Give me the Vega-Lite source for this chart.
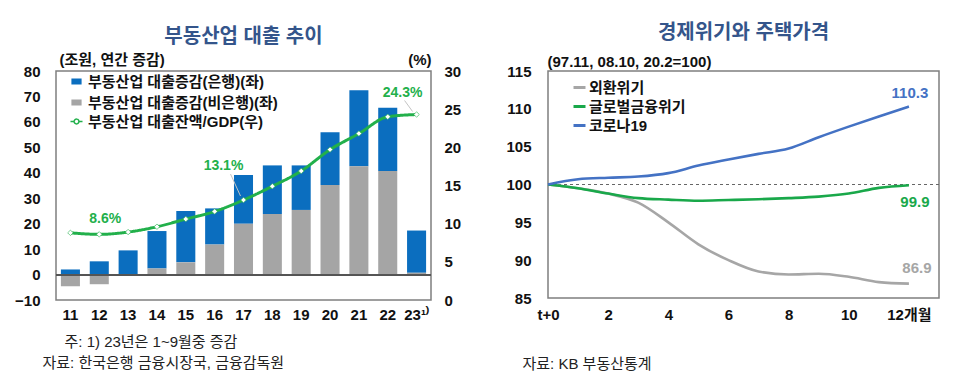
{
  "$schema": "https://vega.github.io/schema/vega-lite/v6.json",
  "background": "white",
  "padding": {"left": 13, "top": 22, "right": 5, "bottom": 5},
  "spacing": 43,
  "config": {
    "font": "Liberation Sans, Noto Sans CJK KR",
    "view": {"stroke": "#7f7f7f", "strokeWidth": 1.5},
    "axis": {"labelFont": "Liberation Sans, Noto Sans CJK KR", "labelFontWeight": "bold", "labelFontSize": 15, "labelColor": "#111111", "labelOverlap": false, "ticks": false, "domain": false, "grid": false, "titleFont": "Liberation Sans, Noto Sans CJK KR", "titleFontWeight": "bold", "titleFontSize": 15, "titleColor": "#111111"},
    "legend": {"labelFont": "Liberation Sans, Noto Sans CJK KR", "labelFontWeight": "bold", "labelFontSize": 15, "labelColor": "#111111", "labelLimit": 400, "padding": 0},
    "title": {"font": "Liberation Sans, Noto Sans CJK KR", "fontSize": 20, "fontWeight": "bold", "color": "#34558b"}
  },
  "datasets": {
    "loans": [
      {"year": "11", "series": "부동산업 대출증감(은행)(좌)", "value": 2.0},
      {"year": "12", "series": "부동산업 대출증감(은행)(좌)", "value": 5.2},
      {"year": "13", "series": "부동산업 대출증감(은행)(좌)", "value": 9.5},
      {"year": "14", "series": "부동산업 대출증감(은행)(좌)", "value": 14.7},
      {"year": "15", "series": "부동산업 대출증감(은행)(좌)", "value": 20.2},
      {"year": "16", "series": "부동산업 대출증감(은행)(좌)", "value": 14.2},
      {"year": "17", "series": "부동산업 대출증감(은행)(좌)", "value": 19.1},
      {"year": "18", "series": "부동산업 대출증감(은행)(좌)", "value": 19.1},
      {"year": "19", "series": "부동산업 대출증감(은행)(좌)", "value": 17.5},
      {"year": "20", "series": "부동산업 대출증감(은행)(좌)", "value": 20.7},
      {"year": "21", "series": "부동산업 대출증감(은행)(좌)", "value": 29.8},
      {"year": "22", "series": "부동산업 대출증감(은행)(좌)", "value": 24.9},
      {"year": "23", "series": "부동산업 대출증감(은행)(좌)", "value": 16.6},
      {"year": "11", "series": "부동산업 대출증감(비은행)(좌)", "value": -4.6},
      {"year": "12", "series": "부동산업 대출증감(비은행)(좌)", "value": -3.8},
      {"year": "13", "series": "부동산업 대출증감(비은행)(좌)", "value": 0.0},
      {"year": "14", "series": "부동산업 대출증감(비은행)(좌)", "value": 2.4},
      {"year": "15", "series": "부동산업 대출증감(비은행)(좌)", "value": 4.8},
      {"year": "16", "series": "부동산업 대출증감(비은행)(좌)", "value": 11.8},
      {"year": "17", "series": "부동산업 대출증감(비은행)(좌)", "value": 20.0},
      {"year": "18", "series": "부동산업 대출증감(비은행)(좌)", "value": 23.8},
      {"year": "19", "series": "부동산업 대출증감(비은행)(좌)", "value": 25.4},
      {"year": "20", "series": "부동산업 대출증감(비은행)(좌)", "value": 35.2},
      {"year": "21", "series": "부동산업 대출증감(비은행)(좌)", "value": 42.6},
      {"year": "22", "series": "부동산업 대출증감(비은행)(좌)", "value": 40.7},
      {"year": "23", "series": "부동산업 대출증감(비은행)(좌)", "value": 0.7},
      {"year": "11", "series": "부동산업 대출잔액/GDP(우)", "value": 8.8},
      {"year": "12", "series": "부동산업 대출잔액/GDP(우)", "value": 8.6, "label": "8.6%"},
      {"year": "13", "series": "부동산업 대출잔액/GDP(우)", "value": 8.9},
      {"year": "14", "series": "부동산업 대출잔액/GDP(우)", "value": 9.6},
      {"year": "15", "series": "부동산업 대출잔액/GDP(우)", "value": 10.6},
      {"year": "16", "series": "부동산업 대출잔액/GDP(우)", "value": 11.6},
      {"year": "17", "series": "부동산업 대출잔액/GDP(우)", "value": 13.1, "label": "13.1%"},
      {"year": "18", "series": "부동산업 대출잔액/GDP(우)", "value": 14.9},
      {"year": "19", "series": "부동산업 대출잔액/GDP(우)", "value": 16.9},
      {"year": "20", "series": "부동산업 대출잔액/GDP(우)", "value": 19.7},
      {"year": "21", "series": "부동산업 대출잔액/GDP(우)", "value": 21.8},
      {"year": "22", "series": "부동산업 대출잔액/GDP(우)", "value": 24.0},
      {"year": "23", "series": "부동산업 대출잔액/GDP(우)", "value": 24.3, "label": "24.3%"}
    ],
    "prices": [
      {"month": 0, "series": "외환위기", "index": 100.0},
      {"month": 1, "series": "외환위기", "index": 99.5},
      {"month": 2, "series": "외환위기", "index": 98.8},
      {"month": 3, "series": "외환위기", "index": 97.6},
      {"month": 4, "series": "외환위기", "index": 95.0},
      {"month": 5, "series": "외환위기", "index": 92.1},
      {"month": 6, "series": "외환위기", "index": 90.0},
      {"month": 7, "series": "외환위기", "index": 88.5},
      {"month": 8, "series": "외환위기", "index": 88.1},
      {"month": 9, "series": "외환위기", "index": 88.2},
      {"month": 10, "series": "외환위기", "index": 87.8},
      {"month": 11, "series": "외환위기", "index": 87.1},
      {"month": 12, "series": "외환위기", "index": 86.9},
      {"month": 0, "series": "글로벌금융위기", "index": 100.0},
      {"month": 1, "series": "글로벌금융위기", "index": 99.5},
      {"month": 2, "series": "글로벌금융위기", "index": 98.8},
      {"month": 3, "series": "글로벌금융위기", "index": 98.2},
      {"month": 4, "series": "글로벌금융위기", "index": 98.0},
      {"month": 5, "series": "글로벌금융위기", "index": 97.85},
      {"month": 6, "series": "글로벌금융위기", "index": 97.95},
      {"month": 7, "series": "글로벌금융위기", "index": 98.05},
      {"month": 8, "series": "글로벌금융위기", "index": 98.2},
      {"month": 9, "series": "글로벌금융위기", "index": 98.4},
      {"month": 10, "series": "글로벌금융위기", "index": 98.8},
      {"month": 11, "series": "글로벌금융위기", "index": 99.55},
      {"month": 12, "series": "글로벌금융위기", "index": 99.9},
      {"month": 0, "series": "코로나19", "index": 100.0},
      {"month": 1, "series": "코로나19", "index": 100.7},
      {"month": 2, "series": "코로나19", "index": 100.9},
      {"month": 3, "series": "코로나19", "index": 101.05},
      {"month": 4, "series": "코로나19", "index": 101.5},
      {"month": 5, "series": "코로나19", "index": 102.5},
      {"month": 6, "series": "코로나19", "index": 103.3},
      {"month": 7, "series": "코로나19", "index": 104.05},
      {"month": 8, "series": "코로나19", "index": 104.75},
      {"month": 9, "series": "코로나19", "index": 106.25},
      {"month": 10, "series": "코로나19", "index": 107.65},
      {"month": 11, "series": "코로나19", "index": 109.0},
      {"month": 12, "series": "코로나19", "index": 110.3}
    ]
  },
  "hconcat": [
    {
      "width": 375,
      "height": 229,
      "title": {"text": "부동산업 대출 추이", "anchor": "middle", "offset": 5},
      "data": {"name": "loans"},
      "layer": [
        {
          "layer": [
            {
              "transform": [{"filter": "datum.series !== '부동산업 대출잔액/GDP(우)'"}],
              "mark": {"type": "bar"},
              "encoding": {
                "x": {
                  "field": "year", "type": "ordinal",
                  "scale": {"paddingInner": 0.34, "paddingOuter": 0.17},
                  "axis": {
                    "labelAngle": 0, "labelPadding": 7, "labelOverlap": false,
                    "labelExpr": "datum.value === '23' ? '23¹⁾' : datum.label",
                    "title": ["⠀⠀주: 1) 23년은 1~9월중 증감", "자료: 한국은행 금융시장국, 금융감독원"],
                    "titleFontWeight": "normal", "titleFontSize": 15, "titleColor": "#222222",
                    "titleAlign": "left", "titleAnchor": "start", "titleBaseline": "top",
                    "titleX": -14, "titleY": 34, "titleLineHeight": 21
                  }
                },
                "y": {
                  "field": "value", "type": "quantitative", "stack": "zero",
                  "scale": {"domain": [-10, 80], "nice": false, "zero": false},
                  "axis": {
                    "values": [-10, 0, 10, 20, 30, 40, 50, 60, 70, 80], "tickCount": 20, "format": "d", "labelPadding": 16, "labelOverlap": false,
                    "title": "(조원, 연간 증감)", "titleAngle": 0, "titleAlign": "left", "titleBaseline": "middle",
                    "titleX": 3, "titleY": -12
                  }
                },
                "color": {
                  "field": "series", "type": "nominal",
                  "scale": {
                    "domain": ["부동산업 대출증감(은행)(좌)", "부동산업 대출증감(비은행)(좌)"],
                    "range": ["#0b6ebf", "#a5a5a5"]
                  },
                  "legend": {
                    "orient": "none", "legendX": 13, "legendY": 3, "title": null,
                    "rowPadding": 5, "labelOffset": 4, "symbolSize": 144,
                    "symbolType": "M-0.85,-0.5H0.85V0.5H-0.85Z", "symbolStrokeWidth": 0
                  }
                },
                "order": {"field": "series", "sort": "ascending"}
              }
            },
            {
              "mark": {"type": "rule", "color": "#555555", "strokeWidth": 1.2},
              "encoding": {"y": {"datum": 0}}
            }
          ]
        },
        {
          "transform": [{"filter": "datum.series === '부동산업 대출잔액/GDP(우)'"}],
          "layer": [
            {
              "mark": {"type": "line", "interpolate": "monotone", "strokeWidth": 3, "color": "#22b04b"},
              "encoding": {
                "x": {"field": "year", "type": "ordinal"},
                "y": {
                  "field": "value", "type": "quantitative",
                  "scale": {"domain": [0, 30], "nice": false},
                  "axis": {
                    "orient": "right", "values": [0, 5, 10, 15, 20, 25, 30], "tickCount": 20, "format": "d", "labelPadding": 13, "labelOverlap": false,
                    "title": "(%)", "titleAngle": 0, "titleAlign": "right", "titleBaseline": "middle",
                    "titleX": 0, "titleY": -12
                  }
                },
                "strokeDash": {
                  "field": "series", "type": "nominal",
                  "scale": {"range": [[1, 0]]},
                  "legend": {
                    "orient": "none", "legendX": 13, "legendY": 43, "title": null,
                    "labelOffset": 4, "symbolSize": 144,
                    "symbolType": "M-1,0H-0.4M0.4,0H1M-0.4,0A0.4,0.4,0,1,1,0.4,0A0.4,0.4,0,1,1,-0.4,0Z",
                    "symbolStrokeColor": "#22b04b", "symbolFillColor": "#ffffff", "symbolStrokeWidth": 1.5
                  }
                }
              }
            },
            {
              "transform": [{"filter": "datum.year === '17'"}],
              "mark": {"type": "rule", "color": "#c4c4c4", "strokeWidth": 1, "xOffset": -13, "yOffset": -26, "x2Offset": -3, "y2Offset": -4},
              "encoding": {
                "x": {"field": "year", "type": "ordinal"},
                "y": {"field": "value", "type": "quantitative"},
                "x2": {"field": "year"},
                "y2": {"field": "value"}
              }
            },
            {
              "transform": [{"filter": "datum.year === '23'"}],
              "mark": {"type": "rule", "color": "#c4c4c4", "strokeWidth": 1, "xOffset": -12, "yOffset": -14, "x2Offset": -4, "y2Offset": -3},
              "encoding": {
                "x": {"field": "year", "type": "ordinal"},
                "y": {"field": "value", "type": "quantitative"},
                "x2": {"field": "year"},
                "y2": {"field": "value"}
              }
            },
            {
              "mark": {"type": "point", "shape": "diamond", "filled": true, "fill": "#ffffff", "stroke": "#22b04b", "strokeWidth": 0.6, "size": 30, "opacity": 1},
              "encoding": {
                "x": {"field": "year", "type": "ordinal"},
                "y": {"field": "value", "type": "quantitative"}
              }
            },
            {
              "transform": [{"filter": "datum.year === '12'"}],
              "mark": {"type": "text", "color": "#22b04b", "fontWeight": "bold", "fontSize": 14, "dx": 6, "dy": -15},
              "encoding": {
                "x": {"field": "year", "type": "ordinal"},
                "y": {"field": "value", "type": "quantitative"},
                "text": {"field": "label"}
              }
            },
            {
              "transform": [{"filter": "datum.year === '17'"}],
              "mark": {"type": "text", "color": "#22b04b", "fontWeight": "bold", "fontSize": 14, "dx": -20, "dy": -34},
              "encoding": {
                "x": {"field": "year", "type": "ordinal"},
                "y": {"field": "value", "type": "quantitative"},
                "text": {"field": "label"}
              }
            },
            {
              "transform": [{"filter": "datum.year === '23'"}],
              "mark": {"type": "text", "color": "#22b04b", "fontWeight": "bold", "fontSize": 14, "dx": -14, "dy": -22},
              "encoding": {
                "x": {"field": "year", "type": "ordinal"},
                "y": {"field": "value", "type": "quantitative"},
                "text": {"field": "label"}
              }
            }
          ]
        }
      ],
      "resolve": {"scale": {"y": "independent"}}
    },
    {
      "width": 391,
      "height": 227,
      "title": {"text": "경제위기와 주택가격", "anchor": "middle", "offset": 11},
      "data": {"name": "prices"},
      "layer": [
        {
          "mark": {"type": "rule", "color": "#666666", "strokeWidth": 1.2, "strokeDash": [3, 3]},
          "encoding": {"y": {"datum": 100}}
        },
        {
          "mark": {"type": "line", "interpolate": "monotone", "strokeWidth": 2.6},
          "encoding": {
            "x": {
              "field": "month", "type": "quantitative",
              "scale": {"domain": [0, 13], "nice": false, "zero": false},
              "axis": {
                "values": [0, 2, 4, 6, 8, 10, 12], "tickCount": 20, "format": "d", "labelPadding": 9, "labelOverlap": false, "labelFlush": false,
                "labelExpr": "datum.value === 0 ? 't+0' : datum.value === 12 ? '12개월' : datum.label",
                "title": "자료: KB 부동산통계",
                "titleFontWeight": "normal", "titleFontSize": 15, "titleColor": "#222222",
                "titleAlign": "left", "titleAnchor": "start", "titleBaseline": "top",
                "titleX": -26, "titleY": 58
              }
            },
            "y": {
              "field": "index", "type": "quantitative",
              "scale": {"domain": [85, 115], "nice": false, "zero": false},
              "axis": {
                "values": [85, 90, 95, 100, 105, 110, 115], "tickCount": 20, "format": "d", "labelPadding": 17, "labelOverlap": false,
                "title": "(97.11, 08.10, 20.2=100)", "titleAngle": 0, "titleAlign": "left", "titleBaseline": "middle",
                "titleX": -1, "titleY": -10
              }
            },
            "color": {
              "field": "series", "type": "nominal",
              "scale": {"domain": ["외환위기", "글로벌금융위기", "코로나19"], "range": ["#a6a6a6", "#19a84a", "#4472c4"]},
              "legend": {
                "orient": "none", "legendX": 24, "legendY": 9, "title": null,
                "symbolType": "stroke", "symbolSize": 144, "symbolStrokeWidth": 3,
                "rowPadding": 3, "labelOffset": 2
              }
            }
          }
        },
        {
          "transform": [{"filter": "datum.month === 12 && datum.series === '코로나19'"}],
          "mark": {"type": "text", "color": "#4472c4", "fontWeight": "bold", "fontSize": 15, "dx": 1, "dy": -14},
          "encoding": {
            "x": {"field": "month", "type": "quantitative"},
            "y": {"field": "index", "type": "quantitative"},
            "text": {"field": "index", "format": ".1f"}
          }
        },
        {
          "transform": [{"filter": "datum.month === 12 && datum.series === '글로벌금융위기'"}],
          "mark": {"type": "text", "color": "#19a84a", "fontWeight": "bold", "fontSize": 15, "dx": 6, "dy": 17},
          "encoding": {
            "x": {"field": "month", "type": "quantitative"},
            "y": {"field": "index", "type": "quantitative"},
            "text": {"field": "index", "format": ".1f"}
          }
        },
        {
          "transform": [{"filter": "datum.month === 12 && datum.series === '외환위기'"}],
          "mark": {"type": "text", "color": "#a6a6a6", "fontWeight": "bold", "fontSize": 15, "dx": 8, "dy": -16},
          "encoding": {
            "x": {"field": "month", "type": "quantitative"},
            "y": {"field": "index", "type": "quantitative"},
            "text": {"field": "index", "format": ".1f"}
          }
        }
      ]
    }
  ],
  "resolve": {"scale": {"color": "independent"}, "legend": {"color": "independent"}}
}
